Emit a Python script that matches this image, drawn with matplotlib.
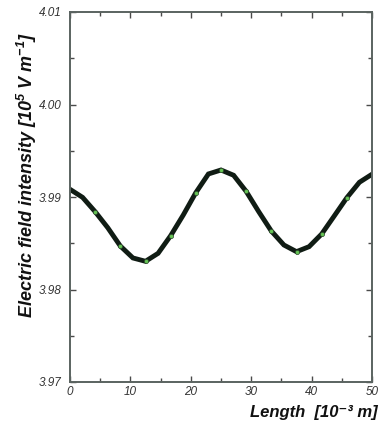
import matplotlib
matplotlib.use("Agg")
import matplotlib.pyplot as plt
import numpy as np
from matplotlib.ticker import MultipleLocator

length = [0, 2.083, 4.167, 6.25, 8.333, 10.417, 12.5, 14.583, 16.667, 18.75,
          20.833, 22.917, 25, 27.083, 29.167, 31.25, 33.333, 35.417, 37.5,
          39.583, 41.667, 43.75, 45.833, 47.917, 50]
field = [3.99083, 3.98996, 3.98841, 3.98668, 3.98470, 3.98341, 3.98305,
         3.98391, 3.98582, 3.98805, 3.99047, 3.99249, 3.99292, 3.99235,
         3.99061, 3.98841, 3.98632, 3.98481, 3.98409, 3.98463, 3.98600,
         3.98795, 3.98992, 3.99159, 3.99246]
marker_idx = list(range(2, 24, 2))

plt.rcParams['font.family'] = ['Liberation Sans', 'DejaVu Sans']
plt.rcParams['mathtext.fontset'] = 'custom'
plt.rcParams['mathtext.it'] = 'Liberation Sans:italic:bold'
plt.rcParams['mathtext.rm'] = 'Liberation Sans:italic:bold'
plt.rcParams['mathtext.bf'] = 'Liberation Sans:italic:bold'

fig = plt.figure(figsize=(3.8, 4.21), dpi=100)
ax = fig.add_axes([70/380, 1 - 382/421, 302/380, 370/421])

ax.plot(length, field, color='#101c14', lw=3.5, solid_joinstyle='miter', zorder=2)
mx = [length[i] for i in marker_idx]
my = [field[i] for i in marker_idx]
ax.plot(mx, my, ls='none', marker='o', ms=3.0, mfc='#66c455', mec='#2c4a2c', mew=0.5, zorder=3)

ax.set_xlim(0, 50)
ax.set_ylim(3.97, 4.01)
ax.xaxis.set_minor_locator(MultipleLocator(5))
ax.yaxis.set_minor_locator(MultipleLocator(0.005))
ax.set_xticks([0, 10, 20, 30, 40, 50])
ax.set_xticklabels(['0', '10', '20', '30', '40', '50'])
ax.set_yticks([3.97, 3.98, 3.99, 4.00, 4.01])
ax.set_yticklabels(['3.97', '3.98', '3.99', '4.00', '4.01'])

for s in ax.spines.values():
    s.set_color('#5a6360')
    s.set_linewidth(1.4)
ax.tick_params(which='both', direction='in', top=True, right=True, color='#4a4a4a', width=1.0)
ax.tick_params(which='major', length=4)
ax.tick_params(which='minor', length=3)
ax.tick_params(axis='both', labelsize=8.5, labelcolor='#333333')
ax.tick_params(axis='x', pad=3)
ax.tick_params(axis='y', pad=6)
for lab in ax.get_xticklabels() + ax.get_yticklabels():
    lab.set_fontstyle('italic')

fig.text(27/380, 1 - 175/421, r'Electric field intensity [10$^5$ V m$^{-1}$]', rotation=90,
         ha='center', va='center', fontsize=13, fontweight='bold', fontstyle='italic',
         color='#111111')
fig.text(378/380, 1 - 420/421, 'Length  [10\u207b\u00b3 m]', ha='right', va='bottom',
         fontsize=12, fontweight='bold', fontstyle='italic', color='#111111',
         family=['Liberation Sans', 'DejaVu Sans'])

fig.savefig('out.png', dpi=100)
